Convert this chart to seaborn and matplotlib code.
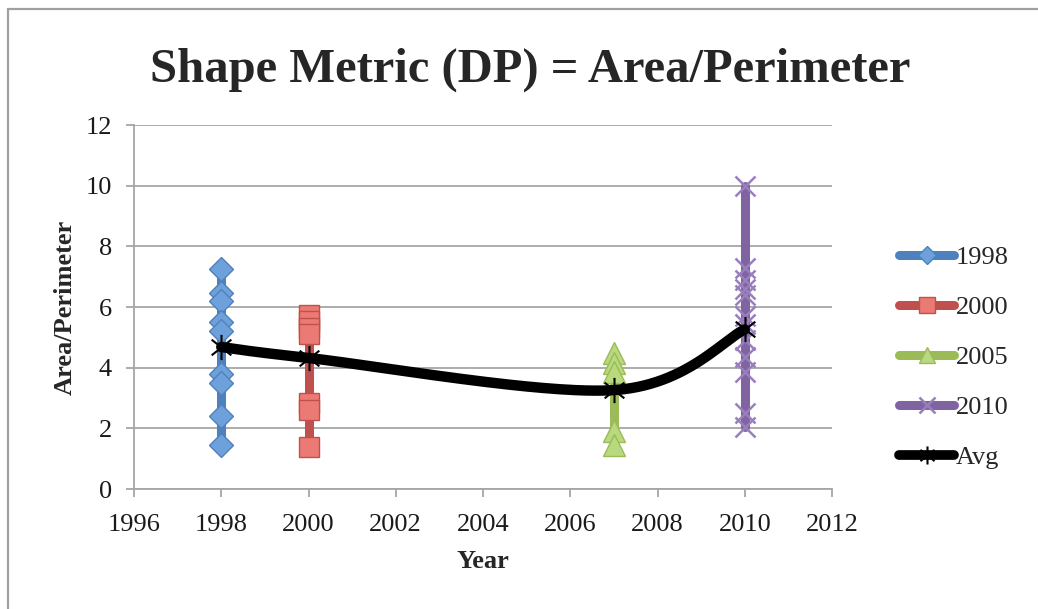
import numpy as np
import pandas as pd
import matplotlib
matplotlib.use("Agg")
import matplotlib.pyplot as plt
from matplotlib.lines import Line2D
from matplotlib.path import Path
import seaborn as sns

# Shape metric samples per survey year
x_1998 = [1998] * 9
y_1998 = [7.25, 6.45, 6.2, 5.5, 5.2, 3.8, 3.5, 2.4, 1.45]

x_2000 = [2000] * 7
y_2000 = [5.75, 5.55, 5.3, 5.1, 2.85, 2.6, 1.4]

x_2005 = [2007] * 5
y_2005 = [4.5, 4.15, 3.85, 1.9, 1.45]

y_2010 = [10.0, 7.3, 6.9, 6.6, 6.4, 5.7, 5.45, 4.9, 4.35, 3.85, 2.5, 2.05]
x_2010 = [2010] * len(y_2010)

avg_x = [1998, 2000, 2007, 2010]
avg_y = [4.68, 4.32, 3.26, 5.26]

series_names = ["1998", "2000", "2005", "2010"]
x_ticks = list(range(1996, 2013, 2))
y_ticks = list(range(0, 13, 2))

sns.set_theme(style="white")
plt.rcParams["font.family"] = ["Liberation Serif", "DejaVu Serif"]

W, H = 1038, 609
fig = plt.figure(figsize=(W / 100, H / 100), dpi=100)
ax = fig.add_axes([134 / W, 1 - 489 / H, (832 - 134) / W, (489 - 125) / H])

styles = {
    "1998": dict(color="#4F81BD", marker="D", ms=12, mfc="#6EA1DB", mec="#4F81BD", mew=1.0),
    "2000": dict(color="#C0504D", marker="s", ms=15, mfc="#EC7A74", mec="#C0504D", mew=1.0),
    "2005": dict(color="#9BBB59", marker="^", ms=16, mfc="#B9D97F", mec="#9BBB59", mew=1.0),
    "2010": dict(color="#8064A2", marker="x", ms=15, mfc="#9A7FBD", mec="#9A7FBD", mew=1.8),
}
data = {
    "1998": (x_1998, y_1998),
    "2000": (x_2000, y_2000),
    "2005": (x_2005, y_2005),
    "2010": (x_2010, y_2010),
}

for name in series_names:
    xs, ys = data[name]
    st = styles[name]
    df = pd.DataFrame({"x": xs, "y": ys})
    sns.lineplot(data=df, x="x", y="y", sort=False, estimator=None, ax=ax,
                 color=st["color"], lw=6.5, marker=st["marker"], ms=st["ms"],
                 mfc=st["mfc"], mec=st["mec"], mew=st["mew"], zorder=3)


def smooth_curve(px, py, n=60):
    """Cubic Bezier smoothing through the points (Catmull-Rom tangents)."""
    pts = np.column_stack([px, py]).astype(float)
    ext = np.vstack([pts[0], pts, pts[-1]])
    out = []
    for i in range(1, len(ext) - 2):
        p0, p1, p2, p3 = ext[i - 1], ext[i], ext[i + 1], ext[i + 2]
        b1 = p1 + (p2 - p0) / 6.0
        b2 = p2 - (p3 - p1) / 6.0
        t = np.linspace(0, 1, n)[:, None]
        seg = ((1 - t) ** 3) * p1 + 3 * ((1 - t) ** 2) * t * b1 \
            + 3 * (1 - t) * t ** 2 * b2 + t ** 3 * p2
        out.append(seg if i == 1 else seg[1:])
    c = np.vstack(out)
    return c[:, 0], c[:, 1]


# Asterisk: vertical stroke plus an X
star = Path([(0, -1), (0, 1), (-0.78, -0.62), (0.78, 0.62), (-0.78, 0.62), (0.78, -0.62)],
            [Path.MOVETO, Path.LINETO] * 3)

cx, cy = smooth_curve(avg_x, avg_y)
sns.lineplot(x=cx, y=cy, sort=False, estimator=None, ax=ax,
             color="black", lw=7.5, zorder=4)
sns.scatterplot(x=avg_x, y=avg_y, ax=ax, marker=star, s=330,
                color="black", edgecolor="black", linewidth=1.5, zorder=5)

ax.set_xlim(1996, 2012)
ax.set_ylim(0, 12)
ax.set_xticks(x_ticks)
ax.set_yticks(y_ticks)
ax.set_xticklabels([str(v) for v in x_ticks], fontsize=19)
ax.set_yticklabels([str(v) for v in y_ticks], fontsize=19)
ax.yaxis.grid(True, color="#A6A6A6", lw=1.3)
ax.xaxis.grid(False)
for side in ["top", "right"]:
    ax.spines[side].set_visible(False)
for side in ["left", "bottom"]:
    ax.spines[side].set_color("#A6A6A6")
    ax.spines[side].set_linewidth(1.3)
ax.tick_params(axis="both", direction="out", length=6, width=1.3,
               color="#A6A6A6", left=True, bottom=True, labelcolor="#1a1a1a")
ax.tick_params(axis="x", pad=12)
ax.tick_params(axis="y", pad=10)
ax.set_xlabel("Year", fontsize=19, fontweight="bold", labelpad=10)
ax.set_ylabel("Area/Perimeter", fontsize=19, fontweight="bold", labelpad=6)

fig.text(530 / W, 1 - 70 / H, "Shape Metric (DP) = Area/Perimeter",
         ha="center", va="center", fontsize=35, fontweight="bold")

handles = []
for name in series_names:
    st = styles[name]
    handles.append(Line2D([], [], color=st["color"], lw=6.5, marker=st["marker"],
                          ms=st["ms"] * 0.75, mfc=st["mfc"], mec=st["mec"],
                          mew=st["mew"], solid_capstyle="round"))
handles.append(Line2D([], [], color="black", lw=7, marker=star, ms=13, mew=1.5,
                      solid_capstyle="round"))
fig.legend(handles, series_names + ["Avg"], loc="upper left",
           bbox_to_anchor=(899 / W, 1 - 246 / H), frameon=False, fontsize=19,
           handlelength=2.1, handletextpad=0.05, labelspacing=1.0,
           borderaxespad=0, borderpad=0)

# Chart-area frame along the top and left edges
frame_color = "#A0A0A0"
fig.add_artist(Line2D([8 / W, 1.0], [1 - 9 / H, 1 - 9 / H], transform=fig.transFigure,
                      color=frame_color, lw=1.6))
fig.add_artist(Line2D([8 / W, 8 / W], [0.0, 1 - 9 / H], transform=fig.transFigure,
                      color=frame_color, lw=1.6))

fig.savefig("out.png", dpi=100, facecolor="white")
